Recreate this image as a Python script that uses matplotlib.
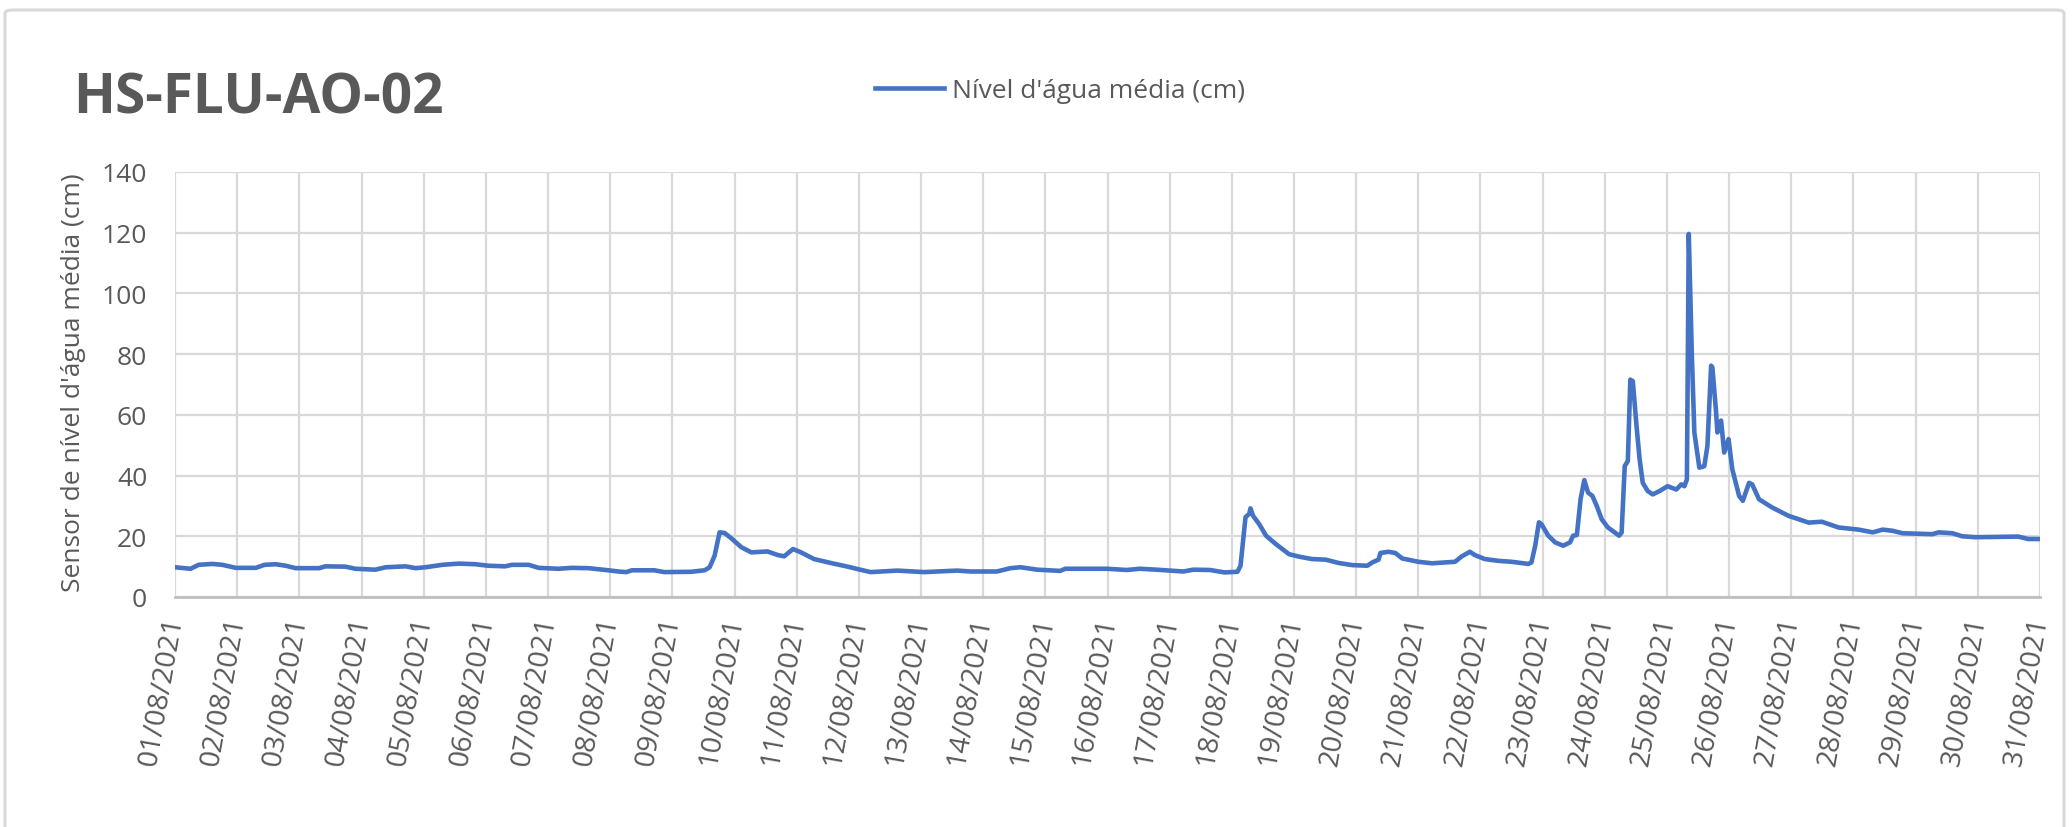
import matplotlib
matplotlib.use("Agg")
import matplotlib.pyplot as plt
from matplotlib.patches import FancyBboxPatch

# ---- data (day of August 2021, water level in cm) ----
days = [1.0, 1.25, 1.38, 1.6, 1.76, 1.98, 2.3, 2.44, 2.62, 2.78, 2.94, 3.32, 3.42, 3.74, 3.9,
        4.22, 4.39, 4.71, 4.87, 5.03, 5.3, 5.56, 5.83, 6.04, 6.31, 6.42, 6.69, 6.85, 7.17, 7.38,
        7.65, 7.97, 8.13, 8.26, 8.35, 8.71, 8.87, 9.30,
        9.52, 9.6, 9.68, 9.76, 9.84, 9.95, 10.11, 10.27, 10.43, 10.53, 10.7, 10.8, 10.94, 11.07,
        11.28, 11.55, 11.82, 11.98, 12.19, 12.62, 13.05, 13.58, 13.8, 14.22, 14.44, 14.6, 14.87,
        15.24, 15.32, 15.99, 16.31, 16.52, 16.79, 17.22, 17.38, 17.65, 17.88, 18.09, 18.14,
        18.22, 18.28, 18.3, 18.34, 18.44, 18.55, 18.71, 18.92, 19.08, 19.29, 19.51, 19.72,
        19.94, 20.18, 20.26, 20.36, 20.39, 20.52, 20.63, 20.74, 21.0, 21.22, 21.43, 21.59,
        21.7, 21.83, 21.91, 22.07, 22.29, 22.5, 22.77, 22.82, 22.88, 22.94, 22.98, 23.09,
        23.2, 23.33, 23.44, 23.49, 23.55, 23.61, 23.67, 23.73, 23.8, 23.87, 23.95, 24.05,
        24.23, 24.27, 24.32, 24.37, 24.41, 24.45, 24.51, 24.56, 24.61, 24.69, 24.77, 24.88,
        25.01, 25.15, 25.23, 25.28, 25.32, 25.35, 25.4, 25.44, 25.52, 25.6, 25.65, 25.71,
        25.73, 25.79, 25.81, 25.87, 25.92, 25.99, 26.05, 26.16, 26.22, 26.32, 26.37, 26.48,
        26.69, 26.96, 27.28, 27.49, 27.76, 28.08, 28.31, 28.47, 28.63, 28.79, 29.27, 29.37,
        29.59, 29.75, 29.96, 30.65, 30.81, 31.0]
nivel = [9.8, 9.3, 10.6, 10.9, 10.6, 9.6, 9.6, 10.6, 10.8, 10.3, 9.5, 9.5, 10.1, 10.0, 9.3,
         9.0, 9.8, 10.1, 9.5, 9.8, 10.6, 11.0, 10.8, 10.3, 10.1, 10.6, 10.6, 9.6, 9.3, 9.6,
         9.5, 8.8, 8.4, 8.2, 8.8, 8.8, 8.2, 8.3,
         8.8, 9.8, 13.6, 21.3, 21.1, 19.3, 16.4, 14.7, 14.9, 15.0, 13.8, 13.4, 15.8, 14.7,
         12.5, 11.2, 10.0, 9.2, 8.2, 8.7, 8.2, 8.7, 8.4, 8.4, 9.5, 9.8, 9.0,
         8.6, 9.3, 9.3, 8.9, 9.3, 9.0, 8.4, 9.0, 8.9, 8.1, 8.3, 10.3,
         26.3, 27.4, 29.2, 26.8, 24.0, 20.2, 17.4, 14.1, 13.3, 12.5, 12.3, 11.2,
         10.5, 10.3, 11.4, 12.3, 14.5, 14.9, 14.5, 12.7, 11.6, 11.1, 11.4, 11.6,
         13.4, 14.9, 13.8, 12.5, 11.9, 11.6, 10.9, 11.4, 16.9, 24.6, 24.0, 20.2,
         18.0, 16.9, 18.0, 20.2, 20.4, 32.3, 38.5, 34.4, 33.3, 30.0, 25.6, 22.9,
         20.2, 21.2, 43.1, 44.8, 71.6, 71.1, 56.3, 45.3, 37.6, 34.9, 33.8, 34.9,
         36.5, 35.4, 37.1, 36.5, 38.7, 119.6, 79.5, 54.2, 42.6, 43.1, 49.7, 76.2,
         75.6, 60.8, 54.2, 58.1, 47.6, 52.0, 42.1, 33.3, 31.7, 37.6, 37.1, 32.2,
         29.5, 26.7, 24.5, 24.8, 22.9, 22.2, 21.3, 22.2, 21.8, 21.0, 20.7, 21.3,
         21.0, 20.0, 19.7, 19.9, 19.1, 19.1]
tick_days = list(range(1, 32))
tick_labels = [f"{d:02d}/08/2021" for d in tick_days]
y_ticks = [0, 20, 40, 60, 80, 100, 120, 140]

W, H = 2072, 828
fig = plt.figure(figsize=(W / 100, H / 100), dpi=100)
fig.subplots_adjust(left=175 / W, right=2040 / W, top=1 - 173 / H, bottom=1 - 598 / H)
ax = fig.add_subplot(111)

FONT = "Open Sans"
GREY = "#595959"

ax.plot(days, nivel, color="#4472C4", lw=3.3, solid_joinstyle="round",
        label="Nível d'água média (cm)")

ax.set_xlim(1, 31)
ax.set_ylim(0, 140)
ax.set_xticks(tick_days)
ax.set_xticklabels(tick_labels, rotation=80, ha="right", va="center",
                   rotation_mode="anchor", fontfamily=FONT, fontsize=20.5)
ax.set_yticks(y_ticks)
ax.set_yticklabels([str(v) for v in y_ticks], fontfamily=FONT, fontsize=19)
ax.tick_params(axis="both", length=0, colors=GREY)
ax.tick_params(axis="x", pad=14)
ax.tick_params(axis="y", pad=20)

ax.grid(True, color="#d9d9d9", lw=1.6)
ax.set_axisbelow(True)
for s in ["top", "right", "left"]:
    ax.spines[s].set_visible(False)
ax.spines["bottom"].set_color("#bfbfbf")
ax.spines["bottom"].set_linewidth(2)
ax.spines["bottom"].set_zorder(3)

# y label
fig.text(74 / W, 1 - 383 / H, "Sensor de nível d'água média (cm)", rotation=90,
         ha="center", va="center", fontsize=19, color=GREY, fontfamily=FONT)

# title
fig.text(73 / W, 1 - 114 / H, "HS-FLU-AO-02", ha="left", va="baseline",
         fontsize=39.5, fontweight="bold", color=GREY, fontfamily=FONT)

# legend
leg = ax.legend(loc="center left", bbox_to_anchor=(875 / W, 1 - 92 / H),
                bbox_transform=fig.transFigure, frameon=False, borderpad=0,
                borderaxespad=0, handlelength=2.6, handletextpad=0.3,
                prop={"family": FONT, "size": 19})
for t in leg.get_texts():
    t.set_color(GREY)

# outer chart border
border = FancyBboxPatch((5 / W, -0.05), 2059 / W, 1 - 11 / H + 0.05,
                        boxstyle="round,pad=0,rounding_size=0.004",
                        transform=fig.transFigure, fill=False,
                        edgecolor="#d9d9d9", lw=2.2)
fig.patches.append(border)

fig.savefig("out.png", dpi=100)
